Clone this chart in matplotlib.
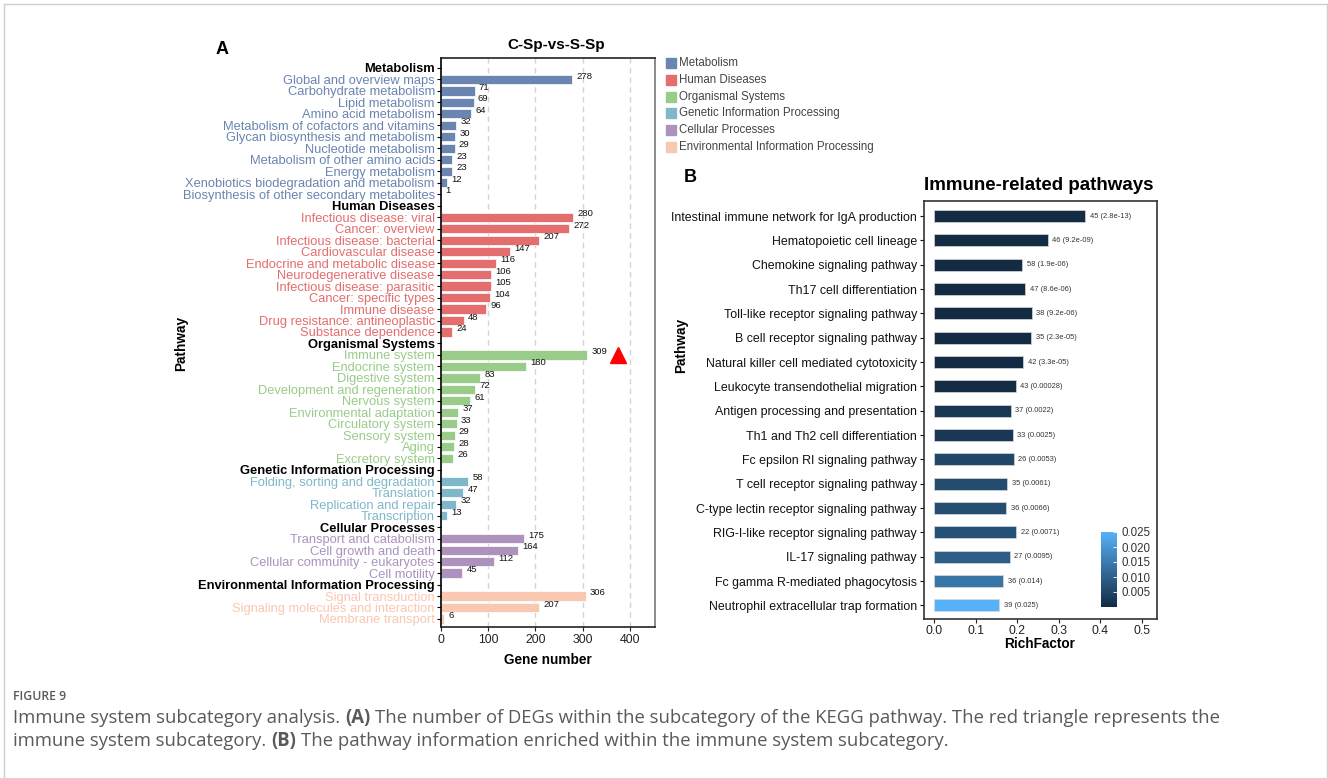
import numpy as np
import matplotlib
matplotlib.use("Agg")
import matplotlib.pyplot as plt
from matplotlib.colors import LinearSegmentedColormap, Normalize
from matplotlib.cm import ScalarMappable
from matplotlib.patches import Rectangle
from matplotlib.lines import Line2D

plt.rcParams['font.family'] = ['Liberation Sans', 'DejaVu Sans']

W, H = 1328, 778

# KEGG level 1 classes and the level 2 subcategories under each
Classes = ["Metabolism", "Human Diseases", "Organismal Systems",
           "Genetic Information Processing", "Cellular Processes",
           "Environmental Information Processing"]
ClassColors = ["#6A85B0", "#E46D6E", "#99CC89", "#7FB8CA", "#AC92BD", "#F8C8B1"]

Metabolism = ["Global and overview maps", "Carbohydrate metabolism", "Lipid metabolism",
              "Amino acid metabolism", "Metabolism of cofactors and vitamins",
              "Glycan biosynthesis and metabolism", "Nucleotide metabolism",
              "Metabolism of other amino acids", "Energy metabolism",
              "Xenobiotics biodegradation and metabolism",
              "Biosynthesis of other secondary metabolites"]
Metabolism_n = [278, 71, 69, 64, 32, 30, 29, 23, 23, 12, 1]

HumanDiseases = ["Infectious disease: viral", "Cancer: overview", "Infectious disease: bacterial",
                 "Cardiovascular disease", "Endocrine and metabolic disease",
                 "Neurodegenerative disease", "Infectious disease: parasitic",
                 "Cancer: specific types", "Immune disease", "Drug resistance: antineoplastic",
                 "Substance dependence"]
HumanDiseases_n = [280, 272, 207, 147, 116, 106, 105, 104, 96, 48, 24]

Organismal = ["Immune system", "Endocrine system", "Digestive system",
              "Development and regeneration", "Nervous system", "Environmental adaptation",
              "Circulatory system", "Sensory system", "Aging", "Excretory system"]
Organismal_n = [309, 180, 83, 72, 61, 37, 33, 29, 28, 26]

Genetic = ["Folding, sorting and degradation", "Translation", "Replication and repair",
           "Transcription"]
Genetic_n = [58, 47, 32, 13]

Cellular = ["Transport and catabolism", "Cell growth and death",
            "Cellular community - eukaryotes", "Cell motility"]
Cellular_n = [175, 164, 112, 45]

Environmental = ["Signal transduction", "Signaling molecules and interaction",
                 "Membrane transport"]
Environmental_n = [306, 207, 6]

Subcats = [Metabolism, HumanDiseases, Organismal, Genetic, Cellular, Environmental]
Counts = [Metabolism_n, HumanDiseases_n, Organismal_n, Genetic_n, Cellular_n, Environmental_n]

# enriched immune system pathways
Pathways = ["Intestinal immune network for IgA production", "Hematopoietic cell lineage",
            "Chemokine signaling pathway", "Th17 cell differentiation",
            "Toll-like receptor signaling pathway", "B cell receptor signaling pathway",
            "Natural killer cell mediated cytotoxicity", "Leukocyte transendothelial migration",
            "Antigen processing and presentation", "Th1 and Th2 cell differentiation",
            "Fc epsilon RI signaling pathway", "T cell receptor signaling pathway",
            "C-type lectin receptor signaling pathway", "RIG-I-like receptor signaling pathway",
            "IL-17 signaling pathway", "Fc gamma R-mediated phagocytosis",
            "Neutrophil extracellular trap formation"]
RichFactor = [0.364, 0.273, 0.212, 0.219, 0.235, 0.234, 0.215, 0.196, 0.184, 0.189,
              0.192, 0.176, 0.174, 0.197, 0.182, 0.166, 0.157]
GeneCount = [45, 46, 58, 47, 38, 35, 42, 43, 37, 33, 26, 35, 36, 22, 27, 36, 39]
PValue = [2.8e-13, 9.2e-09, 1.9e-06, 8.6e-06, 9.2e-06, 2.3e-05, 3.3e-05, 0.00028, 0.0022,
          0.0025, 0.0053, 0.0061, 0.0066, 0.0071, 0.0095, 0.014, 0.025]


def add_ax(l, t, r, b):
    # axes placed by pixel edges
    return fig.add_axes([l / W, 1 - b / H, (r - l) / W, (b - t) / H])


def ftext(x, y, s, **kw):
    return fig.text(x / W, 1 - y / H, s, **kw)


fig = plt.figure(figsize=(W / 100, H / 100), dpi=100)

# ---------------- panel A: gene number per subcategory ----------------
rows, rowcol, rowbold, rowval = [], [], [], []
for cls, col, names, vals in zip(Classes, ClassColors, Subcats, Counts):
    rows.append(cls); rowcol.append("black"); rowbold.append(True); rowval.append(None)
    for nm, v in zip(names, vals):
        rows.append(nm); rowcol.append(col); rowbold.append(False); rowval.append(v)

axA = add_ax(441, 58, 655, 627)
ypos = np.arange(len(rows))
bar_y = [y for y, v in zip(ypos, rowval) if v is not None]
bar_v = [v for v in rowval if v is not None]
bar_c = [c for c, v in zip(rowcol, rowval) if v is not None]
axA.barh(bar_y, bar_v, height=0.8, color=bar_c, edgecolor="white", linewidth=0.5, zorder=2)
for y, v in zip(bar_y, bar_v):
    axA.text(v + 9, y - 0.3, str(v), fontsize=6.8, va="center", ha="left", color="#111")

axA.set_ylim(len(rows) - 1 + 0.7, -0.87)
axA.set_xlim(0, 453)
axA.set_xticks([0, 100, 200, 300, 400])
axA.set_yticks(ypos)
axA.set_yticklabels(rows)
for lab, c, b in zip(axA.get_yticklabels(), rowcol, rowbold):
    lab.set_color(c)
    lab.set_fontweight("bold" if b else "normal")
axA.tick_params(axis="y", labelsize=9.3, length=3, width=0.8, pad=1.5)
axA.tick_params(axis="x", labelsize=8.8, length=3, width=0.8, pad=2, colors="#222")
for x in [100, 200, 300, 400]:
    axA.axvline(x, color="#d4d4d4", linestyle=(0, (4, 3)), linewidth=1, zorder=0)
for s in axA.spines.values():
    s.set_linewidth(1.2)
axA.spines["left"].set_color("black")
axA.spines["bottom"].set_color("#222")
axA.spines["top"].set_color("#222")
axA.spines["right"].set_color("#777")

# immune system marker
immune_row = rows.index("Immune system")
axA.plot(375, immune_row, marker="^", color="red", markersize=12, clip_on=False)

ftext(222, 50, "A", fontsize=13, fontweight="bold", ha="center", va="center")
ftext(556, 45, "C-Sp-vs-S-Sp", fontsize=11, fontweight="bold", ha="center", va="center")
ftext(181, 343, "Pathway", fontsize=9.8, fontweight="bold", rotation=90, ha="center", va="center")
ftext(548, 660, "Gene number", fontsize=9.8, fontweight="bold", ha="center", va="center")

# legend for the classes
for i, (cls, col) in enumerate(zip(Classes, ClassColors)):
    yc = 63.3 + 16.7 * i
    fig.patches.append(Rectangle((666 / W, 1 - (yc + 5) / H), 10 / W, 10 / H,
                                 transform=fig.transFigure, color=col))
    ftext(679, yc, cls, fontsize=8.3, color="#444", va="center", ha="left")

# ---------------- panel B: immune-related pathways ----------------
gg = LinearSegmentedColormap.from_list("gg", ["#132B43", "#56B1F7"])
norm = Normalize(0, 0.025)

axB = add_ax(924, 201, 1157, 619)
yb = np.arange(len(Pathways))
axB.barh(yb, RichFactor, height=0.5, color=gg(norm(PValue)), edgecolor="#d9d9d9", linewidth=0.5)
for y, rf, n, p in zip(yb, RichFactor, GeneCount, PValue):
    axB.text(rf + 0.011, y, "%d (%.2g)" % (n, p), fontsize=5.4, va="center", ha="left", color="#333")
axB.set_ylim(len(Pathways) - 1 + 0.56, -0.62)
axB.set_xlim(-0.024, 0.536)
axB.set_xticks(np.arange(0, 0.51, 0.1))
axB.set_xticklabels(["%.1f" % v for v in np.arange(0, 0.51, 0.1)])
axB.set_yticks(yb)
axB.set_yticklabels(Pathways)
axB.tick_params(axis="y", labelsize=8.9, length=3, width=0.8, pad=2, colors="#111")
axB.tick_params(axis="x", labelsize=8.8, length=3, width=0.8, pad=1.5, colors="#222")
for s in axB.spines.values():
    s.set_linewidth(1.2)
    s.set_color("#333")

cax = add_ax(1101, 532, 1117, 607)
cb = fig.colorbar(ScalarMappable(norm=norm, cmap=gg), cax=cax)
cb.set_ticks([0.005, 0.010, 0.015, 0.020, 0.025])
cb.set_ticklabels(["0.005", "0.010", "0.015", "0.020", "0.025"])
cb.outline.set_visible(False)
cax.tick_params(length=3, width=0.6, color="white", direction="in", labelsize=8.3, pad=3,
                labelcolor="#333")

ftext(690, 178, "B", fontsize=13, fontweight="bold", ha="center", va="center")
ftext(1039, 186, "Immune-related pathways", fontsize=13.5, fontweight="bold", ha="center", va="center")
ftext(681, 345, "Pathway", fontsize=9.8, fontweight="bold", rotation=90, ha="center", va="center")
ftext(1040, 644, "RichFactor", fontsize=9.8, fontweight="bold", ha="center", va="center")

# ---------------- frame and caption ----------------
border = "#cfcfcf"
fig.add_artist(Line2D([4 / W, 4 / W], [0, 1 - 4 / H], transform=fig.transFigure, color=border, lw=1))
fig.add_artist(Line2D([4 / W, 1 - 1.5 / W], [1 - 4 / H, 1 - 4 / H], transform=fig.transFigure, color=border, lw=1))
fig.add_artist(Line2D([1 - 1.5 / W, 1 - 1.5 / W], [0, 1 - 4 / H], transform=fig.transFigure, color=border, lw=1))

cap = dict(family=["Open Sans", "DejaVu Sans"], color="#5a5a5a", va="center", ha="left")
ftext(13, 696, "FIGURE 9", fontsize=8.8, fontweight="semibold", **cap)

renderer = fig.canvas.get_renderer()


def rich_line(x, y, parts, size=13.35):
    for txt, bold in parts:
        t = ftext(x, y, txt, fontsize=size, fontweight="bold" if bold else "normal", **cap)
        x += t.get_window_extent(renderer).width + 4.8


rich_line(13, 718, [("Immune system subcategory analysis.", False), ("(A)", True),
                    ("The number of DEGs within the subcategory of the KEGG pathway. "
                     "The red triangle represents the", False)])
rich_line(13, 741, [("immune system subcategory.", False), ("(B)", True),
                    ("The pathway information enriched within the immune system subcategory.", False)])

fig.savefig("out.png", dpi=100)
